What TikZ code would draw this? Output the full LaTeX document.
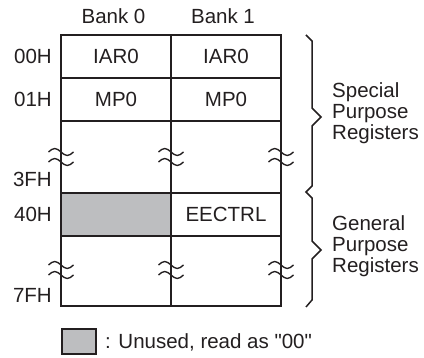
\documentclass[tikz,border=0pt]{standalone}
\usepackage{fontspec}
\setmainfont{Liberation Sans}
\definecolor{ink}{HTML}{231F20}
\definecolor{unused}{RGB}{189,190,192}
\begin{document}
\begin{tikzpicture}[x=1pt,y=-1pt,
  txt/.style={font=\fontsize{20.5}{21}\selectfont, text=ink, inner sep=0pt},
  cell/.style={txt, draw=ink, line width=1.8pt, minimum width=110pt},
  row/.style={minimum height=43pt},
  thinline/.style={draw=ink, line width=1.5pt, line join=miter},
  breakmark/.pic={
    \draw[thinline, line width=1.4pt] (-12.5,-5) sin (-6.25,-8.5) cos (0,-5) sin (6.25,-1.5) cos (12.5,-5);
    \draw[thinline, line width=1.4pt] (-12.5,5) sin (-6.25,1.5) cos (0,5) sin (6.25,8.5) cos (12.5,5);
  }]
\useasboundingbox (0,0) rectangle (424,358);

% column headings
\node[txt] (h0) at (113.5,16.5) {Bank 0};
\node[txt] (h1) at (223,16.5) {Bank 1};

% register cells, bank 0 and bank 1
\node[cell, row] (a0) at (116,56.5) {IAR0};
\node[cell, row] (a1) at (226,56.5) {IAR0};
\node[cell, row] (b0) at (116,99.5) {MP0};
\node[cell, row] (b1) at (226,99.5) {MP0};
\node[cell, minimum height=72pt] (c0) at (116,157) {};
\node[cell, minimum height=72pt] (c1) at (226,157) {};
\node[cell, row, fill=unused] (d0) at (116,214.5) {};
\node[cell, row] (d1) at (226,214.5) {EECTRL};
\node[cell, minimum height=70pt] (e0) at (116,271) {};
\node[cell, minimum height=70pt] (e1) at (226,271) {};

% address labels
\node[txt, anchor=east] (r00) at (52,56.5) {00H};
\node[txt, anchor=east] (r01) at (52,99.5) {01H};
\node[txt, anchor=east] (r3f) at (52,179.5) {3FH};
\node[txt, anchor=east] (r40) at (52,214.5) {40H};
\node[txt, anchor=east] (r7f) at (52,295) {7FH};

% break marks on the vertical lines
\foreach \x in {61,171,281} {
  \pic at (\x,157) {breakmark};
  \pic at (\x,270) {breakmark};
}

% braces
\draw[thinline] (306,35) -- (312,41) -- (312,108) -- (321,117) -- (312,126)
  -- (312,186) -- (306,192) -- (312,198) -- (312,241) -- (321,250)
  -- (312,259) -- (312,300) -- (306,307);
\node[txt, anchor=west, align=left] (spr) at (332,113) {Special\\Purpose\\Registers};
\node[txt, anchor=west, align=left] (gpr) at (332,246) {General\\Purpose\\Registers};

% legend
\node[draw=ink, fill=unused, line width=1.5pt, minimum width=34pt, minimum height=25pt, inner sep=0pt] (key) at (79,341.5) {};
\node[txt, anchor=west] (keytext) at (105,342) {: Unused, read as \textquotedbl 00\textquotedbl};
\end{tikzpicture}
\end{document}
